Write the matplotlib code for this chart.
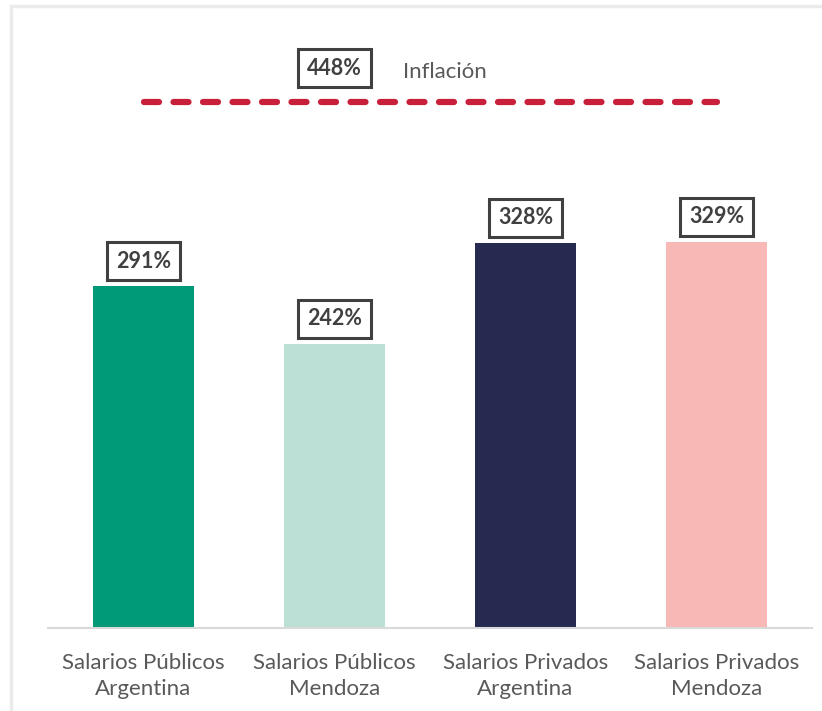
import matplotlib
matplotlib.use("Agg")
import matplotlib.pyplot as plt
from matplotlib.patches import Rectangle

categories = ["Salarios Públicos\nArgentina", "Salarios Públicos\nMendoza",
              "Salarios Privados\nArgentina", "Salarios Privados\nMendoza"]
values = [291, 242, 328, 329]
bar_colors = ["#009A78", "#BCE0D5", "#262A50", "#F8B8B5"]
inflation = 448
inflation_label = "Inflación"

plt.rcParams["font.family"] = ["Lato", "DejaVu Sans"]
TEXT = "#595959"
BOX = "#404040"

fig = plt.figure(figsize=(8.22, 7.11), dpi=100)
ax = fig.add_axes([48 / 822, 83 / 711, 764 / 822, 587 / 711])

x = list(range(len(categories)))
ax.bar(x, values, width=0.53, color=bar_colors, zorder=2)

box_style = dict(boxstyle="square,pad=0.4", facecolor="white", edgecolor=BOX, linewidth=2.2)
for xi, v in zip(x, values):
    ax.annotate(f"{v}%", (xi, v), xytext=(0, 18), textcoords="offset points",
                ha="center", va="center", fontsize=15.5, fontweight="bold",
                color=BOX, bbox=box_style)

ax.plot([x[0], x[-1]], [inflation, inflation], color="#C8203A", lw=4.5,
        linestyle=(0, (2.4, 2.32)), dash_capstyle="round", zorder=3)
ax.annotate(f"{inflation}%", (x[1], inflation), xytext=(0, 24.5), textcoords="offset points",
            ha="center", va="center", fontsize=15.5, fontweight="bold",
            color=BOX, bbox=box_style)
ax.annotate(inflation_label, (x[1], inflation), xytext=(49, 21.5), textcoords="offset points",
            ha="left", va="center", fontsize=16, color=TEXT)

ax.set_xlim(-0.5, 3.5)
ax.set_ylim(0, 500)
ax.set_xticks(x)
ax.set_xticklabels(categories, fontsize=16, color=TEXT, linespacing=1.38)
ax.tick_params(axis="x", length=0, pad=18)
ax.set_yticks([])
for side in ("top", "right", "left"):
    ax.spines[side].set_visible(False)
ax.spines["bottom"].set_color("#D9D9D9")
ax.spines["bottom"].set_linewidth(1.5)

# light frame around the chart area
fig.patches.append(Rectangle((11 / 822, -0.05), 1.0, 1.05 - 6 / 711,
                             transform=fig.transFigure, fill=False,
                             edgecolor="#EBEBEB", linewidth=2.5))

fig.savefig("out.png", dpi=100)
